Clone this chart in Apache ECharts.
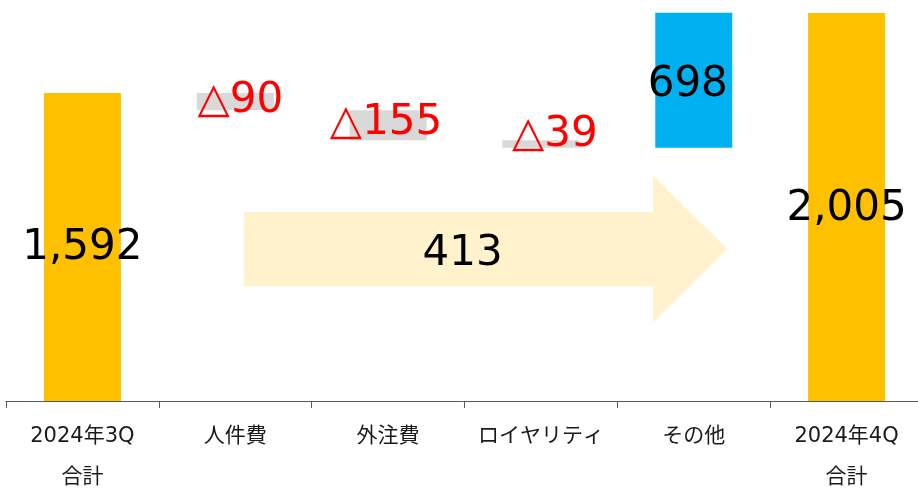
<!DOCTYPE html>
<html>
<head>
<meta charset="utf-8">
<script src="https://cdn.jsdelivr.net/npm/echarts@6/dist/echarts.min.js"></script>
<style>
html,body{margin:0;padding:0;background:#fff;}
#c{width:918px;height:488px;}
</style>
</head>
<body>
<div id="c"></div>
<script>
// ---- data ----
const categories = ['2024年3Q\n合計', '人件費', '外注費', 'ロイヤリティ', 'その他', '2024年4Q\n合計'];
const deltas = [1592, -90, -155, -39, 698, 2005];
const kinds = ['total', 'change', 'change', 'change', 'change', 'total'];
const valueLabels = ['1,592', '△90', '△155', '△39', '698', '2,005'];
const arrowFrom = 1;
const arrowTo = 4;
const arrowLabel = '413';

// ---- waterfall build ----
const bases = [];
const heights = [];
let running = 0;
deltas.forEach((d, i) => {
  if (kinds[i] === 'total') {
    bases.push(0); heights.push(d); running = d;
  } else if (d < 0) {
    running += d; bases.push(running); heights.push(-d);
  } else {
    bases.push(running); heights.push(d); running += d;
  }
});

const colorFor = (i) => kinds[i] === 'total' ? '#ffc000' : (deltas[i] < 0 ? '#d9d9d9' : '#00b0f0');
const labelOffsets = [[0, 1], [5, -1], [-2, -2], [14, -9], [-6, 5], [0, 2]];

const barData = heights.map((h, i) => ({
  value: h,
  itemStyle: { color: colorFor(i) },
  label: {
    show: true,
    position: 'inside',
    offset: labelOffsets[i],
    formatter: valueLabels[i],
    color: (kinds[i] !== 'total' && deltas[i] < 0) ? '#ff0000' : '#000000',
    fontSize: 42,
    fontFamily: 'DejaVu Sans, Noto Sans CJK JP, sans-serif'
  }
}));

const chart = echarts.init(document.getElementById('c'), null, { renderer: 'canvas' });
chart.setOption({
  animation: false,
  backgroundColor: '#ffffff',
  grid: { left: 6, top: 0, width: 917, height: 401, containLabel: false, outerBoundsMode: 'none' },
  xAxis: {
    type: 'category',
    data: categories,
    axisLine: { lineStyle: { color: '#595959', width: 1 } },
    axisTick: { show: true, length: 7, interval: 0, lineStyle: { color: '#595959' } },
    axisLabel: {
      interval: 0,
      margin: 15,
      color: '#1a1a1a',
      fontSize: 21,
      lineHeight: 41,
      fontFamily: 'DejaVu Sans, Noto Sans CJK JP, sans-serif'
    }
  },
  yAxis: { type: 'value', min: 0, max: 2072, show: false, splitLine: { show: false } },
  series: [
    {
      type: 'custom',
      z: 1,
      data: [[arrowFrom, arrowTo, arrowLabel]],
      encode: { x: [0, 1] },
      renderItem: function (params, api) {
        const c1 = api.coord([api.value(0), 0]);
        const c4 = api.coord([api.value(1), 0]);
        const bw = api.size([1, 0])[0];
        const yc = api.coord([0, 785])[1];
        const bodyH = api.size([0, 383])[1] / 2;
        const headH = api.size([0, 760])[1] / 2;
        const left = c1[0] + 0.058 * bw;
        const headBase = c4[0] - 0.266 * bw;
        const tip = c4[0] + 0.219 * bw;
        return {
          type: 'group',
          children: [
            {
              type: 'polygon',
              shape: {
                points: [
                  [left, yc - bodyH], [headBase, yc - bodyH], [headBase, yc - headH],
                  [tip, yc], [headBase, yc + headH], [headBase, yc + bodyH], [left, yc + bodyH]
                ]
              },
              style: { fill: '#fff2cc' }
            },
            {
              type: 'text',
              style: {
                text: arrowLabel,
                x: (left + headBase) / 2 + 14,
                y: yc + 5,
                align: 'center',
                verticalAlign: 'middle',
                fill: '#000000',
                fontSize: 42,
                fontFamily: 'DejaVu Sans, sans-serif'
              }
            }
          ]
        };
      }
    },
    {
      type: 'bar',
      stack: 'w',
      barWidth: 77,
      silent: true,
      itemStyle: { color: 'transparent' },
      data: bases
    },
    {
      type: 'bar',
      stack: 'w',
      barWidth: 77,
      z: 3,
      data: barData
    }
  ]
});
</script>
</body>
</html>
